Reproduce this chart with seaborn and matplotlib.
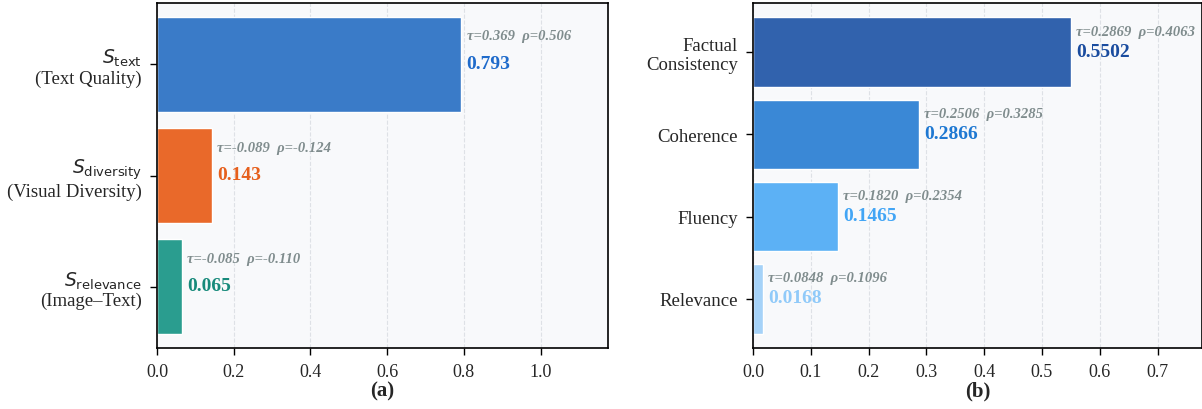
import matplotlib
matplotlib.use("Agg")
import matplotlib.pyplot as plt
import seaborn as sns
import pandas as pd

# Panel (a): component scores
a_labels = [r"$S_{\mathrm{text}}$" + "\n(Text Quality)",
            r"$S_{\mathrm{diversity}}$" + "\n(Visual Diversity)",
            r"$S_{\mathrm{relevance}}$" + "\n(Image–Text)"]
a_values = [0.793, 0.143, 0.065]
a_tau = [0.369, -0.089, -0.085]
a_rho = [0.506, -0.124, -0.110]
a_bar_colors = ["#3A7BC8", "#E9692A", "#2A9D8F"]
a_text_colors = ["#1F6BCB", "#E65F1C", "#178A7B"]

# Panel (b): summary quality dimensions
b_labels = ["Factual\nConsistency", "Coherence", "Fluency", "Relevance"]
b_values = [0.5502, 0.2866, 0.1465, 0.0168]
b_tau = [0.2869, 0.2506, 0.1820, 0.0848]
b_rho = [0.4063, 0.3285, 0.2354, 0.1096]
b_bar_colors = ["#3162AD", "#3A88D6", "#5CB1F5", "#A5D2F8"]
b_text_colors = ["#1A4C9F", "#1E78D2", "#42A5F5", "#90CAF9"]

sns.set_theme(style="white")
plt.rcParams["font.family"] = ["Liberation Serif", "DejaVu Serif"]
plt.rcParams["mathtext.fontset"] = "dejavusans"

fig = plt.figure(figsize=(12.02, 4.10), dpi=100)
ax_a = fig.add_axes([0.1306, 0.149, 0.375, 0.841])
ax_b = fig.add_axes([0.6265, 0.149, 0.3735, 0.841])


def draw_panel(ax, labels, values, taus, rhos, bar_colors, text_colors,
               xmax, ylim, ticks, fmt, letter):
    df = pd.DataFrame({"metric": labels, "score": values})
    sns.barplot(data=df, x="score", y="metric", hue="metric",
                palette=bar_colors, order=labels, hue_order=labels,
                orient="h", width=0.85, legend=False, ax=ax,
                edgecolor="white", linewidth=1.0, alpha=1.0, saturation=1)
    ax.set_facecolor("#F8F9FB")
    ax.set_xlim(0, xmax)
    ax.set_ylim(*ylim)
    ax.set_xticks(ticks)
    ax.set_xticklabels([f"{t:.1f}" for t in ticks])
    ax.xaxis.grid(True, linestyle="--", color="#DEE1E6", linewidth=0.8)
    ax.set_axisbelow(True)
    for s in ax.spines.values():
        s.set_visible(True)
        s.set_color("black")
        s.set_linewidth(1.2)
    ax.tick_params(axis="both", direction="out", length=5, width=1.0,
                   color="black", bottom=True, left=True, pad=6)
    ax.tick_params(axis="x", labelsize=13)
    ax.tick_params(axis="y", labelsize=13.5)
    for lbl in ax.get_yticklabels():
        lbl.set_linespacing(1.1)
    ax.set_ylabel("")
    ax.set_xlabel(letter, fontsize=15, fontweight="bold", labelpad=0)
    dx = xmax * 0.012
    for i, (v, t, r, c) in enumerate(zip(values, taus, rhos, text_colors)):
        ax.text(v + dx, i - 0.255, f"τ={t:{fmt}}  ρ={r:{fmt}}",
                ha="left", va="center", fontsize=10.5, style="italic",
                fontweight="bold", color="#7F8C8D")
        ax.text(v + dx, i - 0.01, f"{v:{fmt}}", ha="left", va="center",
                fontsize=14, fontweight="bold", color=c)


draw_panel(ax_a, a_labels, a_values, a_tau, a_rho, a_bar_colors,
           a_text_colors, 1.175, (2.55, -0.55), [0.0, 0.2, 0.4, 0.6, 0.8, 1.0],
           ".3f", "(a)")
draw_panel(ax_b, b_labels, b_values, b_tau, b_rho, b_bar_colors,
           b_text_colors, 0.777, (3.6, -0.6),
           [0.0, 0.1, 0.2, 0.3, 0.4, 0.5, 0.6, 0.7], ".4f", "(b)")

fig.savefig("out.png", dpi=100)
